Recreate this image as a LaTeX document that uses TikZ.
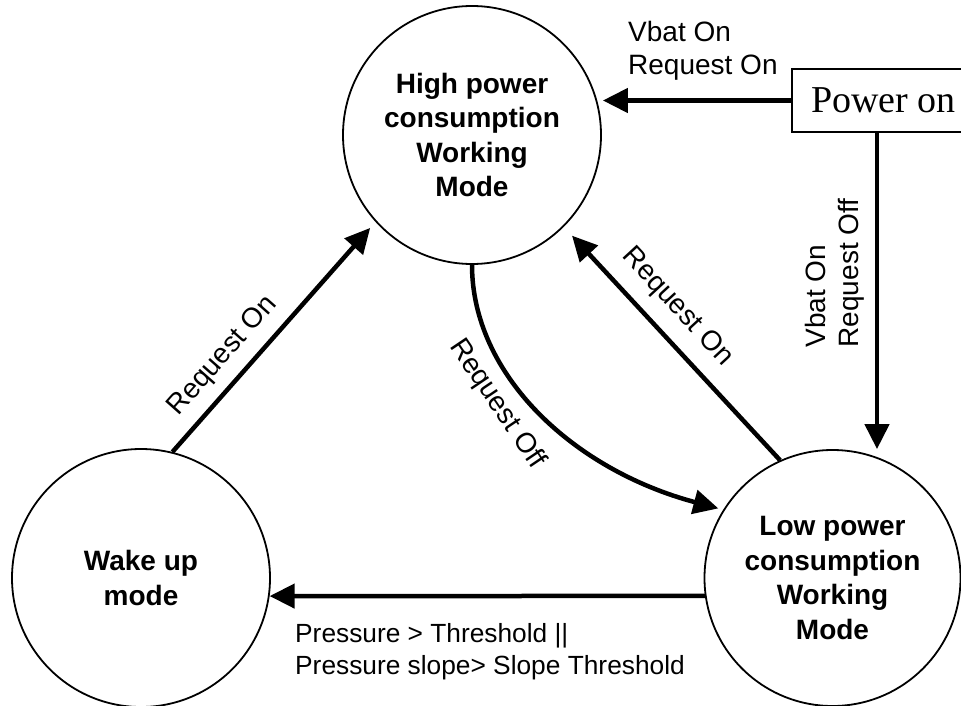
\documentclass[tikz,border=0pt]{standalone}
\usepackage{fontspec}
\setmainfont{Liberation Sans}
\newfontfamily\poserif{Liberation Serif}
\usetikzlibrary{arrows.meta}
\begin{document}
\begin{tikzpicture}[x=1pt,y=1pt,
  state/.style={circle,draw,line width=1.8pt,minimum size=#1,inner sep=0pt,align=center,
    font=\fontsize{28}{34.5}\selectfont\bfseries},
  arr/.style={line width=4.5pt,-{Triangle[length=25pt,width=24pt]}},
  lab/.style={font=\fontsize{28}{33}\selectfont,inner sep=0pt}]
\useasboundingbox (0,0) rectangle (961,-706);
% states
\node[state=258pt] (high) at (472,-135) {High power\\consumption\\Working\\Mode};
\node[state=258pt] (wake) at (141,-578) {Wake up\\mode};
\node[state=256pt] (low) at (832.5,-578) {Low power\\consumption\\Working\\Mode};
% power on box
\node[draw,line width=1.8pt,minimum width=183pt,minimum height=63pt,inner sep=0pt,
  font=\poserif\fontsize{38}{40}\selectfont] (pwr) at (883.5,-100.5) {Power on};
\coordinate (vtop) at ([xshift=-6.5pt]pwr.south);
% connectors
\draw[arr,shorten >=6pt] (pwr.west) -- (pwr.west -| high.16);
\draw[arr] (vtop) -- (vtop |- low.north);
\draw[arr] (low.188) -- (wake.-8);
\draw[arr,shorten >=8pt] (wake.76) -- (high.222);
\draw[arr,shorten >=12pt] (low.114) -- (high.315);
\draw[arr,shorten >=5pt] (high.270) .. controls +(0,-110) and +(-150,40) .. (low.148);
% labels
\node[lab,align=left,anchor=west] (l1) at (628,-51) {Vbat On\\Request On};
\node[lab,align=left,rotate=90] (l2) at (834.5,-273) {Vbat On\\Request Off};
\node[lab,rotate=48.5] (l3) at (223,-356) {Request On};
\node[lab,rotate=-47.3] (l4) at (677,-307) {Request On};
\node[lab,rotate=-56] (l5) at (497,-404) {Request Off};
\node[lab,align=left,anchor=west,font=\fontsize{26.3}{32}\selectfont] (l6) at (295,-652) {Pressure > Threshold ||\\Pressure slope> Slope Threshold};
\end{tikzpicture}
\end{document}
